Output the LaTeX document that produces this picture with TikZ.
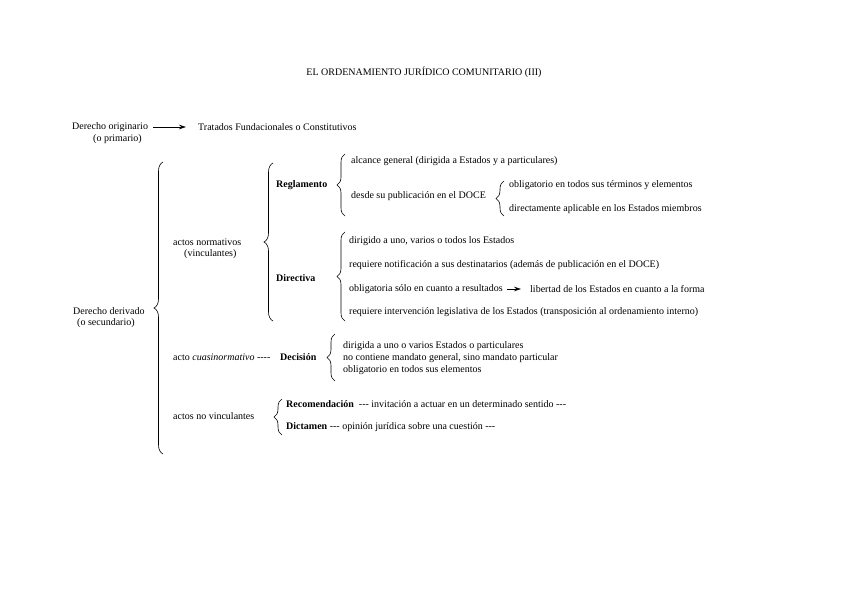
\documentclass[tikz,border=0pt]{standalone}
\usepackage{fontspec}
\setmainfont{Liberation Serif}
\usetikzlibrary{arrows.meta, positioning, decorations.pathreplacing}

\tikzset{
  txt/.style={anchor=west, inner sep=0pt, font=\fontsize{10}{12}\selectfont},
  bold/.style={txt, font=\fontsize{10}{12}\selectfont\bfseries},
  brc/.style={decorate, decoration={brace, amplitude=#1}, line width=0.6pt},
  brc/.default=9pt,
  arr/.style={-{Stealth[length=7pt, width=4.5pt]}, line width=0.6pt},
}

\begin{document}
\begin{tikzpicture}[x=1pt, y=-1pt]
  \useasboundingbox (0,0) rectangle (848,599);

  \node[txt, anchor=center] (title) at (424,72)
    {EL ORDENAMIENTO JURÍDICO COMUNITARIO (III)};

  % derecho originario
  \node[txt] (orig) at (72,127) {Derecho originario};
  \node[txt] (origb) at (93,139) {(o primario)};
  \node[txt] (trat) at (198,127) {Tratados Fundacionales o Constitutivos};
  \draw[arr, shorten <=5pt, shorten >=12pt] (orig) -- (trat);

  % derecho derivado
  \node[txt] (deriv) at (73,311) {Derecho derivado};
  \node[txt] (derivb) at (77,323) {(o secundario)};
  \draw[brc] (163,454) -- (163,162);

  \node[txt] (norm) at (173,242) {actos normativos};
  \node[txt] (normb) at (184,254) {(vinculantes)};
  \draw[brc] (273,321) -- (273,163);

  % reglamento
  \node[bold] (regl) at (276,185) {Reglamento};
  \draw[brc=8pt] (345,216) -- (345,154);
  \node[txt] (alc) at (351,161) {alcance general (dirigida a Estados y a particulares)};
  \node[txt] (desde) at (351,196) {desde su publicación en el DOCE};
  \draw[brc=8pt] (504,216) -- (504,181);
  \node[txt] (oblig) at (509,185) {obligatorio en todos sus términos y elementos};
  \node[txt] (direc) at (509,209) {directamente aplicable en los Estados miembros};

  % directiva
  \node[bold] (dir) at (276,278) {Directiva};
  \draw[brc=8pt] (345,321) -- (345,232);
  \node[txt] (dirig) at (349,241) {dirigido a uno, varios o todos los Estados};
  \node[txt] (notif) at (349,265) {requiere notificación a sus destinatarios (además de publicación en el DOCE)};
  \node[txt] (result) at (349,289) {obligatoria sólo en cuanto a resultados};
  \node[txt] (libert) at (530,289) {libertad de los Estados en cuanto a la forma};
  \draw[arr, shorten <=4pt, shorten >=9pt] (result) -- (libert);
  \node[txt] (interv) at (349,312) {requiere intervención legislativa de los Estados (transposición al ordenamiento interno)};

  % decision
  \node[txt] (cuasi) at (173,357) {acto \textit{cuasinormativo} -{}-{}-{}-};
  \node[bold] (decis) at (280,357) {Decisión};
  \draw[brc=8pt] (335,381) -- (335,334);
  \node[txt] (dec1) at (343,346) {dirigida a uno o varios Estados o particulares};
  \node[txt] (dec2) at (343,358) {no contiene mandato general, sino mandato particular};
  \node[txt] (dec3) at (343,370) {obligatorio en todos sus elementos};

  % no vinculantes
  \node[txt] (novinc) at (173,416) {actos no vinculantes};
  \draw[brc=8pt] (282,435) -- (282,399);
  \node[txt] (recom) at (286,404)
    {\textbf{Recomendación}\ \ -{}-{}- invitación a actuar en un determinado sentido -{}-{}-};
  \node[txt] (dictam) at (286,427)
    {\textbf{Dictamen} -{}-{}- opinión jurídica sobre una cuestión -{}-{}-};
\end{tikzpicture}
\end{document}
